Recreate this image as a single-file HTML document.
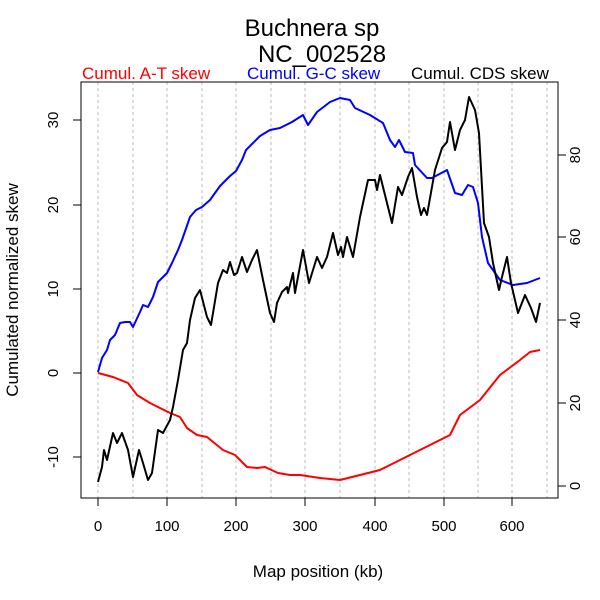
<!DOCTYPE html>
<html><head><style>body{margin:0;background:#fff}svg{display:block}text{font-family:"Liberation Sans",sans-serif}</style></head><body>
<svg width="600" height="600" viewBox="0 0 600 600">
<g fill="#000" font-size="24" text-anchor="middle">
<text x="312" y="36">Buchnera sp</text>
<text x="322" y="62">NC_002528</text>
</g>
<g font-size="17">
<text x="82" y="79" fill="#f00">Cumul. A-T skew</text>
<text x="247" y="79" fill="#00f">Cumul. G-C skew</text>
<text x="411" y="79" fill="#000">Cumul. CDS skew</text>
</g>
<g stroke="#bbb" stroke-dasharray="3,3" stroke-width="1">
<path d="M98 82V498M133 82V498M167 82V498M202 82V498M236 82V498M271 82V498M305 82V498M340 82V498M375 82V498M409 82V498M444 82V498M478 82V498M512 82V498M547 82V498"/>
</g>
<rect x="81" y="82" width="477" height="416" fill="none" stroke="#000" stroke-width="1"/>
<g stroke="#000" stroke-width="1">
<path d="M98 498v8M167 498v8M236 498v8M305 498v8M375 498v8M444 498v8M512 498v8"/>
<path d="M81 120h-8M81 205h-8M81 289h-8M81 373h-8M81 457h-8"/>
<path d="M558 486h8M558 403h8M558 320h8M558 237h8M558 155h8"/>
</g>
<g font-size="15" fill="#000" text-anchor="middle">
<text x="98" y="531">0</text><text x="167" y="531">100</text><text x="236" y="531">200</text><text x="305" y="531">300</text><text x="375" y="531">400</text><text x="444" y="531">500</text><text x="512" y="531">600</text>
<text transform="translate(58,120) rotate(-90)">30</text>
<text transform="translate(58,205) rotate(-90)">20</text>
<text transform="translate(58,289) rotate(-90)">10</text>
<text transform="translate(58,373) rotate(-90)">0</text>
<text transform="translate(58,457) rotate(-90)">-10</text>
<text transform="translate(580,486) rotate(-90)">0</text>
<text transform="translate(580,403) rotate(-90)">20</text>
<text transform="translate(580,320) rotate(-90)">40</text>
<text transform="translate(580,237) rotate(-90)">60</text>
<text transform="translate(580,155) rotate(-90)">80</text>
<text x="318" y="577" font-size="17">Map position (kb)</text>
<text transform="translate(18,290) rotate(-90)" font-size="17">Cumulated normalized skew</text>
</g>
<g fill="none" stroke-width="2" stroke-linejoin="round">
<polyline stroke="#f00" points="98,373 113,377 128,383 137,395 150,403 170,413 180,417 187,428 197,435 207,437 223,450 235,455 247,467 257,468 265,467 278,473 290,475 300,475 320,478 340,480 360,475 380,470 400,460 420,450 440,440 450,435 460,415 480,400 500,375 520,360 530,352 540,350"/>
<polyline stroke="#00f" points="98,372 102,358 107,350 110,340 115,335 120,323 125,322 130,322 133,327 140,312 143,305 148,307 153,297 158,282 167,273 172,263 178,250 182,240 190,217 196,210 202,207 210,200 220,186 230,176 236,171 242,160 246,150 260,136 270,130 280,128 292,122 303,115 308,125 317,112 330,102 340,98 350,100 355,108 370,115 383,123 390,140 395,147 399,140 405,152 413,153 415,165 427,178 432,178 447,170 455,193 462,195 468,185 473,187 478,203 482,237 488,263 500,280 513,285 527,283 540,278"/>
<polyline stroke="#000" points="98,482 102,467 104,450 107,460 113,433 117,443 122,433 128,450 133,477 139,450 143,463 148,480 152,473 158,430 163,433 170,420 173,407 178,380 183,350 187,343 190,320 195,298 200,290 207,317 211,325 218,283 223,270 227,273 230,262 234,275 237,273 242,257 247,272 252,260 257,250 263,280 270,313 274,322 277,303 282,292 287,287 288,293 293,273 295,293 303,250 309,283 313,270 317,257 322,268 327,257 333,233 338,255 341,247 343,257 347,237 353,257 360,217 368,180 375,180 377,190 380,175 392,223 398,187 402,195 408,177 412,168 417,197 421,215 424,208 427,215 435,170 442,148 447,142 450,122 455,150 460,130 465,120 469,97 475,110 479,133 484,223 489,237 493,263 499,290 502,277 507,257 511,283 518,313 525,295 531,308 536,322 540,303"/>
</g>
</svg>
</body></html>
